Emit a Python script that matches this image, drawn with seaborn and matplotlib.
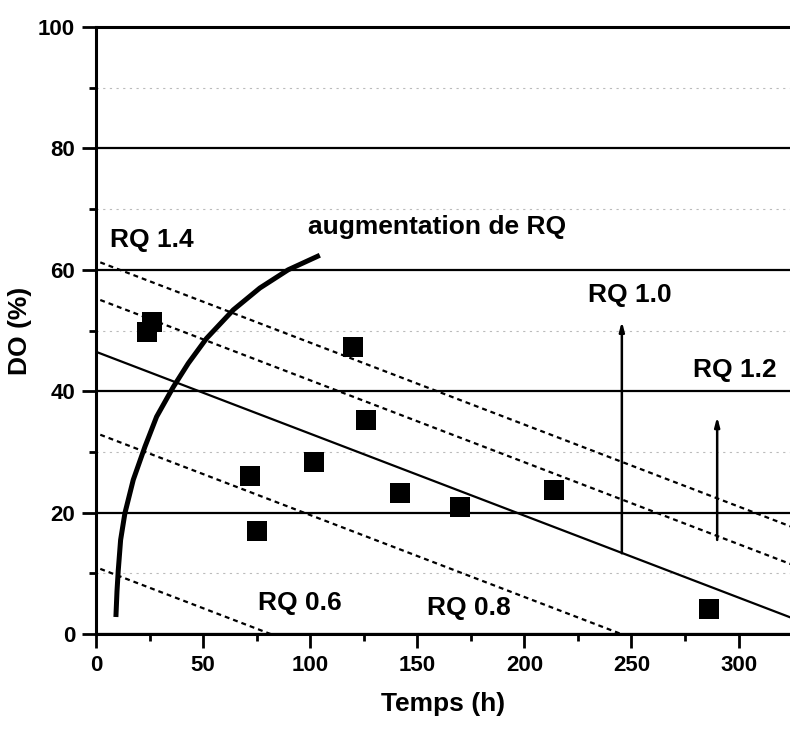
import numpy as np
import pandas as pd
import seaborn as sns
import matplotlib
matplotlib.use("Agg")
import matplotlib.pyplot as plt
from matplotlib.ticker import MultipleLocator

# ---- data ----
time_h = [24, 26, 72, 75, 102, 120, 126, 142, 170, 214, 286]
do_pct = [49.8, 51.4, 26.0, 16.9, 28.3, 47.3, 35.3, 23.3, 21.0, 23.7, 4.2]

# parallel iso-RQ lines: intercepts at t=0 and common slope
line_intercepts = [61.5, 55.3, 46.5, 33.1, 11.0]
line_styles = ["dashed", "dashed", "solid", "dashed", "dashed"]
line_slope = -0.135

# "augmentation de RQ" curve
curve_x = [9.3, 9.8, 10.4, 11.5, 13.5, 17.4, 22.9, 28.3, 36.1, 43.1, 51.6, 64.1, 76.5, 89.7, 104.5]
curve_y = [2.8, 7.0, 10.5, 15.5, 19.9, 25.4, 30.9, 35.8, 40.7, 44.6, 48.7, 53.4, 57.0, 60.0, 62.4]

# vertical arrows
arrow_x = [245.5, 290.0]
arrow_y0 = [13.3, 15.5]
arrow_y1 = [51.5, 35.8]

sns.set_theme(style="white")
plt.rcParams["font.family"] = ["Liberation Sans", "DejaVu Sans"]
plt.rcParams["font.weight"] = "bold"
plt.rcParams["text.color"] = "black"
plt.rcParams["axes.labelcolor"] = "black"
plt.rcParams["xtick.color"] = "black"
plt.rcParams["ytick.color"] = "black"

fig = plt.figure(figsize=(7.9, 7.31), dpi=100)
ax = fig.add_axes([0.1215, 0.1327, 0.8785, 0.8303])

# faint minor grid lines
for yv in [10, 30, 50, 70, 90]:
    ax.axhline(yv, color="#bbbbbb", lw=0.8, ls=(0, (2, 4)), zorder=1)

# iso-RQ lines
for b, st in zip(line_intercepts, line_styles):
    x0 = 0.0 if st == "solid" else 2.0
    lx = np.array([x0, 330.0])
    df_l = pd.DataFrame({"x": lx, "y": b + line_slope * lx})
    if st == "solid":
        sns.lineplot(data=df_l, x="x", y="y", ax=ax, color="black", lw=1.6, zorder=3)
    else:
        sns.lineplot(data=df_l, x="x", y="y", ax=ax, color="black", lw=1.6,
                     linestyle=(0, (2.2, 1.8)), zorder=3)

# curve
df_c = pd.DataFrame({"x": curve_x, "y": curve_y})
sns.lineplot(data=df_c, x="x", y="y", ax=ax, sort=False, color="black", lw=3.6,
             solid_capstyle="butt", solid_joinstyle="round", zorder=4)

# data points
df_p = pd.DataFrame({"t": time_h, "do": do_pct})
sns.scatterplot(data=df_p, x="t", y="do", ax=ax, marker="s", s=190, color="black",
                edgecolor="black", linewidth=0, zorder=5)

# arrows
for xa, y0, y1 in zip(arrow_x, arrow_y0, arrow_y1):
    ax.annotate("", xy=(xa, y1), xytext=(xa, y0),
                arrowprops=dict(arrowstyle="-|>,head_length=0.45,head_width=0.12",
                                color="black", lw=1.8, shrinkA=0, shrinkB=0), zorder=6)

# labels
tkw = dict(fontsize=19, fontweight="bold", color="black", va="center", ha="left", zorder=7)
ax.text(6.5, 64.9, "RQ 1.4", **tkw)
ax.text(99, 67.0, "augmentation de RQ", **tkw)
ax.text(229.6, 55.8, "RQ 1.0", **tkw)
ax.text(278.6, 43.5, "RQ 1.2", **tkw)
ax.text(75.6, 5.1, "RQ 0.6", **tkw)
ax.text(154.5, 4.3, "RQ 0.8", **tkw)

# axes
ax.set_xlim(0, 324)
ax.set_ylim(0, 100)
ax.xaxis.set_major_locator(MultipleLocator(50))
ax.xaxis.set_minor_locator(MultipleLocator(25))
ax.yaxis.set_major_locator(MultipleLocator(20))
ax.yaxis.set_minor_locator(MultipleLocator(10))
ax.yaxis.grid(True, which="major", color="black", lw=1.6, zorder=2)
ax.set_axisbelow(True)

for s in ["left", "bottom", "top"]:
    ax.spines[s].set_visible(True)
    ax.spines[s].set_color("black")
    ax.spines[s].set_linewidth(2.2)
ax.spines["right"].set_visible(False)

ax.tick_params(axis="both", which="major", direction="out", length=10, width=2,
               color="black", labelcolor="black", labelsize=16, pad=5, left=True, bottom=True)
ax.tick_params(axis="both", which="minor", direction="out", length=5, width=2,
               color="black", left=True, bottom=True)
for lab in ax.get_xticklabels() + ax.get_yticklabels():
    lab.set_fontweight("bold")

ax.set_xlabel("Temps (h)", fontsize=19, fontweight="bold", labelpad=12, color="black")
ax.set_ylabel("DO (%)", fontsize=19, fontweight="bold", labelpad=4, color="black")

fig.savefig("out.png", dpi=100)
